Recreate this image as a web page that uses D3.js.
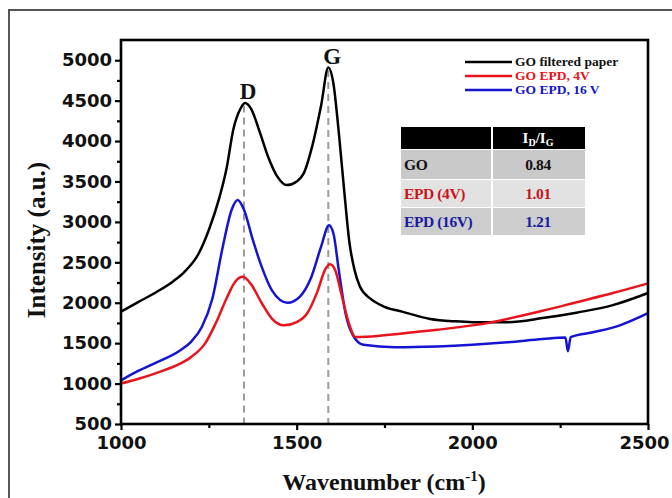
<!DOCTYPE html>
<html>
<head>
<meta charset="utf-8">
<script src="https://cdn.jsdelivr.net/npm/d3@7/dist/d3.min.js"></script>
<style>
  html, body { margin: 0; padding: 0; background: #fff; }
  svg { display: block; }
</style>
</head>
<body>
<svg id="chart" width="672" height="498"></svg>
<script>
// ---------------- DATA ----------------
const seriesNames = ["GO filtered paper", "GO EPD, 4V", "GO EPD, 16 V"];

const goPaperWn  = [1000,1050,1100,1150,1180,1220,1250,1280,1300,1320,1340,1353,1370,1395,1420,1445,1472,1500,1520,1545,1570,1590,1605,1620,1635,1650,1665,1680,1710,1750,1800,1880,1950,2000,2100,2200,2300,2400,2500];
const goPaperVal = [1890,2010,2130,2270,2380,2600,2900,3300,3650,4150,4400,4470,4400,4110,3790,3560,3455,3500,3600,3950,4450,4910,4700,4100,3400,2750,2400,2200,2050,1950,1890,1800,1770,1760,1760,1810,1880,1970,2120];

const epd4Wn  = [1000,1050,1100,1168,1200,1240,1270,1300,1325,1347,1370,1400,1430,1464,1500,1530,1560,1580,1595,1610,1625,1645,1668,1700,1800,1900,2000,2100,2200,2300,2400,2500];
const epd4Val = [1000,1060,1130,1246,1330,1500,1750,2050,2260,2320,2230,2000,1800,1720,1760,1870,2150,2400,2475,2400,2150,1800,1575,1580,1620,1665,1720,1800,1900,2010,2120,2240];

const epd16Wn  = [1000,1050,1100,1168,1200,1230,1260,1290,1315,1332,1350,1375,1400,1430,1474,1510,1540,1570,1592,1605,1620,1640,1660,1690,1780,1900,2000,2100,2200,2265,2272,2280,2350,2420,2500];
const epd16Val = [1040,1160,1260,1410,1520,1700,2050,2700,3150,3270,3150,2780,2450,2150,2000,2080,2300,2700,2960,2850,2400,1850,1600,1480,1450,1460,1480,1510,1550,1570,1400,1575,1640,1720,1870];

const xMajorTicks = [1000, 1500, 2000, 2500];
const xMinorTicks = [1250, 1750, 2250];
const yMajorTicks = [500,1000,1500,2000,2500,3000,3500,4000,4500,5000];
const yMinorTicks = [750,1250,1750,2250,2750,3250,3750,4250,4750];

const peakNames = ["D", "G"];
const peakWn    = [1350, 1590];
const peakTop   = [4440, 4880];

const tableRowNames = ["GO", "EPD (4V)", "EPD (16V)"];
const tableRatios   = ["0.84", "1.01", "1.21"];

// ---------------- STYLE ----------------
const seriesColors = ["#000000", "#e8141b", "#1414d2"];
const rowFills = ["#c9c9c9", "#e2e2e2", "#cdcdcd"];
const rowText = ["#111111", "#c8141b", "#1a1aa0"];

const svg = d3.select("#chart");
const W = 672, H = 498;
const L = 121, R = 648, T = 40, B = 424;

const x = d3.scaleLinear().domain([1000, 2500]).range([L, R]);
const y = d3.scaleLinear().domain([500, 5250]).range([B, T]);

svg.append("rect").attr("width", W).attr("height", H).attr("fill", "#fff");
// outer picture frame
svg.append("rect").attr("x", 9).attr("y", 10).attr("width", 700).attr("height", 520)
  .attr("fill", "none").attr("stroke", "#555").attr("stroke-width", 2);

// dashed peak lines
peakWn.forEach((wn, i) => {
  svg.append("line")
    .attr("x1", x(wn)).attr("x2", x(wn))
    .attr("y1", y(peakTop[i])).attr("y2", B)
    .attr("stroke", "#9a9a9a").attr("stroke-width", 2)
    .attr("stroke-dasharray", "7,5");
});

// series lines
const line = d3.line().x(d => x(d[0])).y(d => y(d[1])).curve(d3.curveMonotoneX);
const seriesData = [
  d3.zip(goPaperWn, goPaperVal),
  d3.zip(epd4Wn, epd4Val),
  d3.zip(epd16Wn, epd16Val)
];
[0, 2, 1].forEach(i => {
  svg.append("path").datum(seriesData[i])
    .attr("d", line).attr("fill", "none")
    .attr("stroke", seriesColors[i]).attr("stroke-width", 2.5)
    .attr("stroke-linejoin", "round");
});

// axes
const tickFont = "'DejaVu Sans', sans-serif";
const xg = svg.append("g").attr("transform", `translate(0,${B})`)
  .call(d3.axisBottom(x).tickValues(xMajorTicks).tickSize(6).tickPadding(6).tickFormat(d3.format("d")));
svg.append("g").attr("transform", `translate(0,${B})`)
  .call(d3.axisBottom(x).tickValues(xMinorTicks).tickSize(4).tickFormat(""));
svg.append("g").attr("transform", `translate(${L},0)`)
  .call(d3.axisLeft(y).tickValues(yMajorTicks).tickSize(6).tickPadding(3).tickFormat(d3.format("d")));
svg.append("g").attr("transform", `translate(${L},0)`)
  .call(d3.axisLeft(y).tickValues(yMinorTicks).tickSize(4).tickFormat(""));

svg.selectAll(".domain").remove();
svg.selectAll(".tick line").attr("stroke", "#000").attr("stroke-width", 2.2);
svg.selectAll(".tick text")
  .attr("font-family", tickFont).attr("font-weight", "bold")
  .attr("font-size", 18).attr("fill", "#111");
// keep the last x label inside the picture
xg.selectAll(".tick text").filter(d => d === 2500).attr("dx", -4);

// frame
svg.append("rect").attr("x", L).attr("y", T).attr("width", R - L).attr("height", B - T)
  .attr("fill", "none").attr("stroke", "#000").attr("stroke-width", 2.6);

// peak labels
const serif = "'Liberation Serif', 'Times New Roman', serif";
peakNames.forEach((n, i) => {
  svg.append("text").attr("x", x(peakWn[i]) + 4).attr("y", y(peakTop[i]) - 6)
    .attr("text-anchor", "middle").attr("font-family", serif).attr("font-weight", "bold")
    .attr("font-size", 23).attr("fill", "#111").text(n);
});

// axis titles
svg.append("text").attr("x", 384).attr("y", 490).attr("text-anchor", "middle")
  .attr("font-family", serif).attr("font-weight", "bold").attr("font-size", 24).attr("fill", "#111")
  .html('Wavenumber (cm<tspan dy="-9" font-size="15">-1</tspan><tspan dy="9">)</tspan>');
svg.append("text").attr("transform", "translate(45,240) rotate(-90)").attr("text-anchor", "middle")
  .attr("font-family", serif).attr("font-weight", "bold").attr("font-size", 25).attr("fill", "#111")
  .text("Intensity  (a.u.)");

// legend
const legY = [62, 76, 90];
seriesNames.forEach((n, i) => {
  svg.append("line").attr("x1", 465).attr("x2", 512).attr("y1", legY[i]).attr("y2", legY[i])
    .attr("stroke", seriesColors[i]).attr("stroke-width", 2.5);
  svg.append("text").attr("x", 515).attr("y", legY[i] + 4)
    .attr("font-family", serif).attr("font-weight", "bold").attr("font-size", 13.5)
    .attr("fill", seriesColors[i] === "#000000" ? "#111" : seriesColors[i]).text(n);
});

// table
const tX = 401, tW = 184, tSplit = 492;
const hdrY = 127, hdrH = 22, rowH = [30, 28, 28];
svg.append("rect").attr("x", tX).attr("y", hdrY).attr("width", tSplit - tX - 1).attr("height", hdrH).attr("fill", "#000");
svg.append("rect").attr("x", tSplit + 1).attr("y", hdrY).attr("width", tX + tW - tSplit - 1).attr("height", hdrH).attr("fill", "#000");
svg.append("text").attr("x", 538).attr("y", hdrY + 16).attr("text-anchor", "middle")
  .attr("font-family", serif).attr("font-weight", "bold").attr("font-size", 15).attr("fill", "#fff")
  .html('I<tspan dy="3" font-size="10">D</tspan><tspan dy="-3">/I</tspan><tspan dy="3" font-size="10">G</tspan>');
let ry = hdrY + hdrH + 1;
tableRowNames.forEach((n, i) => {
  const h = rowH[i] - 1;
  svg.append("rect").attr("x", tX).attr("y", ry).attr("width", tSplit - tX - 1).attr("height", h).attr("fill", rowFills[i]);
  svg.append("rect").attr("x", tSplit + 1).attr("y", ry).attr("width", tX + tW - tSplit - 1).attr("height", h).attr("fill", rowFills[i]);
  svg.append("text").attr("x", tX + 3).attr("y", ry + h / 2 + 5.5)
    .attr("font-family", serif).attr("font-weight", "bold").attr("font-size", 15.5)
    .attr("letter-spacing", "-0.4").attr("fill", rowText[i]).text(n);
  svg.append("text").attr("x", 538).attr("y", ry + h / 2 + 5.5).attr("text-anchor", "middle")
    .attr("font-family", serif).attr("font-weight", "bold").attr("font-size", 15.5)
    .attr("letter-spacing", "-0.4").attr("fill", rowText[i]).text(tableRatios[i]);
  ry += rowH[i];
});
</script>
</body>
</html>
